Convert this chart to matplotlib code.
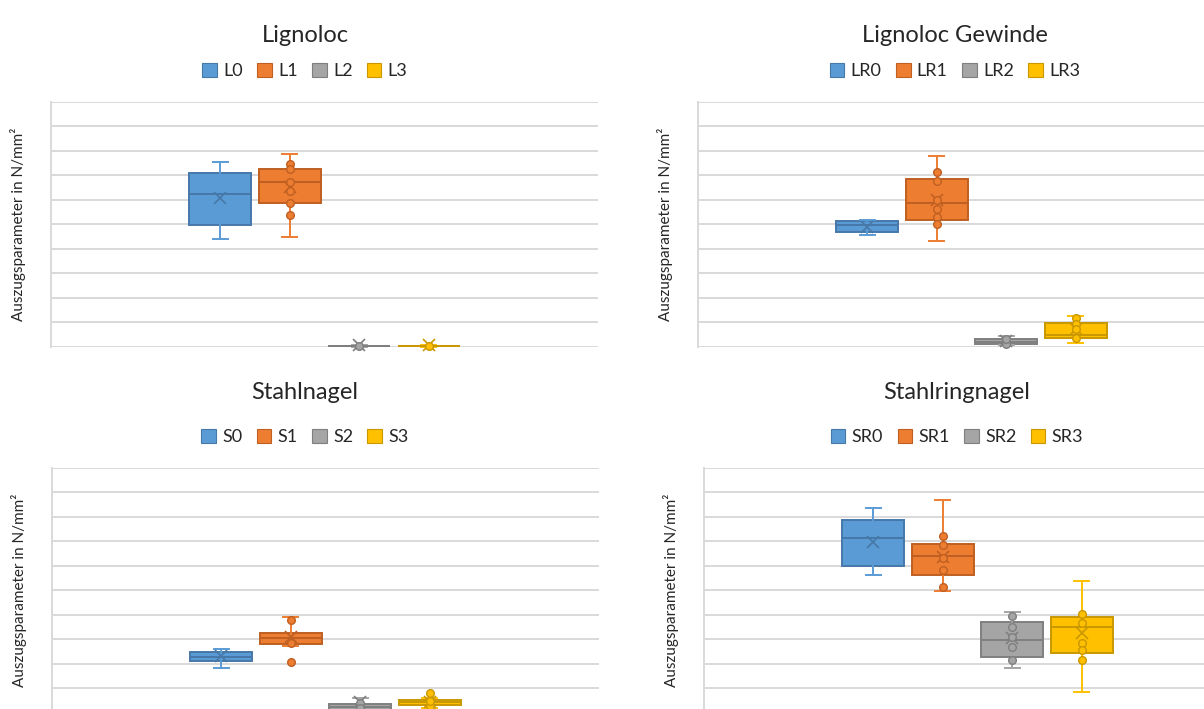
"""Pull-out parameters of four fastener types as Excel-style box plots."""

import matplotlib

matplotlib.use("Agg")
import matplotlib.pyplot as plt
from matplotlib.patches import Patch

plt.rcParams["font.family"] = ["Lato", "DejaVu Sans"]

W, H = 1204, 709

COLORS = ["#5B9BD5", "#ED7D31", "#A5A5A5", "#FFC000"]
EDGES = ["#4678A8", "#BF5F22", "#7F7F7F", "#C99700"]
GRID = "#D9D9D9"
YLABEL = "Auszugsparameter in N/mm²"

# Lignoloc
L_LABELS = ["L0", "L1", "L2", "L3"]
L_WHISLO = [4.38, 4.46, 0.00, 0.00]
L_Q1 = [4.97, 5.86, 0.01, 0.01]
L_MED = [6.22, 6.72, 0.02, 0.02]
L_Q3 = [7.10, 7.25, 0.03, 0.03]
L_WHISHI = [7.55, 7.87, 0.06, 0.07]
L_MEAN = [6.09, 6.54, 0.08, 0.08]
L_POINTS = [[], [7.47, 7.25, 6.73, 6.37, 5.88, 5.39], [0.02], [0.02]]

# Lignoloc Gewinde
LR_LABELS = ["LR0", "LR1", "LR2", "LR3"]
LR_WHISLO = [4.57, 4.30, 0.08, 0.16]
LR_Q1 = [4.70, 5.17, 0.12, 0.34]
LR_MED = [4.95, 5.85, 0.20, 0.48]
LR_Q3 = [5.14, 6.84, 0.31, 0.97]
LR_WHISHI = [5.18, 7.78, 0.42, 1.26]
LR_MEAN = [4.88, 5.99, 0.23, 0.73]
LR_POINTS = [[], [7.14, 6.76, 5.99, 5.64, 5.29, 5.02], [0.10, 0.30],
             [1.15, 0.91, 0.70, 0.34]]

# Stahlnagel
S_LABELS = ["S0", "S1", "S2", "S3"]
S_WHISLO = [1.82, 2.72, 0.05, 0.18]
S_Q1 = [2.09, 2.82, 0.10, 0.32]
S_MED = [2.28, 3.04, 0.22, 0.42]
S_Q3 = [2.48, 3.26, 0.34, 0.52]
S_WHISHI = [2.58, 3.91, 0.60, 0.60]
S_MEAN = [2.30, 3.07, 0.41, 0.44]
S_POINTS = [[], [3.78, 2.85], [0.38, 0.20], [0.28, 0.45]]
S_FLIERS = [[], [2.07], [], [0.79]]

# Stahlringnagel
SR_LABELS = ["SR0", "SR1", "SR2", "SR3"]
SR_WHISLO = [5.62, 4.95, 1.81, 0.83]
SR_Q1 = [5.99, 5.61, 2.25, 2.44]
SR_MED = [7.14, 6.41, 2.96, 3.48]
SR_Q3 = [7.89, 6.90, 3.71, 3.89]
SR_WHISHI = [8.38, 8.69, 4.12, 5.36]
SR_MEAN = [6.96, 6.38, 3.04, 3.27]
SR_POINTS = [[], [7.20, 6.84, 6.32, 5.83, 5.14],
             [3.94, 3.48, 3.08, 2.69, 2.13],
             [4.01, 3.67, 2.86, 2.56, 2.16]]

NO_FLIERS = [[], [], [], []]

PANELS = [
    # title, labels, stats, inner points, fliers,
    # plot left/top (px), title x, title baseline, legend y (px)
    ("Lignoloc", L_LABELS,
     (L_WHISLO, L_Q1, L_MED, L_Q3, L_WHISHI, L_MEAN), L_POINTS, NO_FLIERS,
     51, 102, 305, 42, 71),
    ("Lignoloc Gewinde", LR_LABELS,
     (LR_WHISLO, LR_Q1, LR_MED, LR_Q3, LR_WHISHI, LR_MEAN), LR_POINTS, NO_FLIERS,
     698, 102, 955, 42, 71),
    ("Stahlnagel", S_LABELS,
     (S_WHISLO, S_Q1, S_MED, S_Q3, S_WHISHI, S_MEAN), S_POINTS, S_FLIERS,
     52, 468, 305, 399, 437),
    ("Stahlringnagel", SR_LABELS,
     (SR_WHISLO, SR_Q1, SR_MED, SR_Q3, SR_WHISHI, SR_MEAN), SR_POINTS, NO_FLIERS,
     704, 468, 957, 399, 437),
]

PLOT_W, PLOT_H = 547, 244.5
STEP = 69.5 / PLOT_W
BOX_W = 62 / PLOT_W

fig = plt.figure(figsize=(W / 100, H / 100), dpi=100)

for title, labels, stats, points, fliers, left, top, tx, ty, ly in PANELS:
    # plot areas on the right and bottom run past the figure edge
    ax = fig.add_axes([left / W, 1 - (top + PLOT_H) / H, PLOT_W / W, PLOT_H / H])
    whislo, q1, med, q3, whishi, mean = stats
    positions = [(i - 1.5) * STEP for i in range(4)]

    for i, pos in enumerate(positions):
        box = dict(whislo=whislo[i], q1=q1[i], med=med[i], q3=q3[i],
                   whishi=whishi[i], mean=mean[i], fliers=fliers[i])
        c, e = COLORS[i], EDGES[i]
        arts = ax.bxp(
            [box], positions=[pos], widths=BOX_W, patch_artist=True,
            showmeans=True, capwidths=BOX_W * 0.24, manage_ticks=False,
            boxprops=dict(facecolor=c, edgecolor=e, linewidth=1.4),
            medianprops=dict(color=e, linewidth=1.4),
            whiskerprops=dict(color=c, linewidth=1.4),
            capprops=dict(color=c, linewidth=1.4),
            meanprops=dict(marker="x", markeredgecolor=e, markersize=9,
                           markeredgewidth=1.2),
            flierprops=dict(marker="o", markerfacecolor=c, markeredgecolor=e,
                            markersize=5.5, markeredgewidth=1),
        )
        for group in arts.values():
            for artist in group:
                artist.set_clip_on(False)
        if points[i]:
            ax.plot([pos] * len(points[i]), points[i], "o", color=c,
                    markeredgecolor=e, markersize=5.5, markeredgewidth=1,
                    clip_on=False, zorder=4)

    ax.set_xlim(-0.5, 0.5)
    ax.set_ylim(0, 10)
    ax.set_yticks(range(11))
    ax.set_xticks([])
    ax.tick_params(axis="y", length=0, labelleft=False)
    ax.grid(axis="y", color=GRID, linewidth=1.4)
    ax.set_axisbelow(True)
    for side in ("top", "right", "bottom"):
        ax.spines[side].set_visible(False)
    ax.spines["left"].set_color(GRID)
    ax.spines["left"].set_linewidth(1.4)

    fig.text((left - 33) / W, 1 - (top + PLOT_H / 2) / H, YLABEL, rotation=90,
             fontsize=11, ha="center", va="center", color="#262626")
    fig.text(tx / W, 1 - ty / H, title, fontsize=17, ha="center",
             va="baseline", color="#262626")

    handles = [Patch(facecolor=COLORS[i], edgecolor=EDGES[i], linewidth=0.8)
               for i in range(4)]
    fig.legend(handles, labels, loc="center", bbox_to_anchor=(tx / W, 1 - ly / H),
               ncol=4, frameon=False, fontsize=13, handlelength=0.8,
               handleheight=0.8, handletextpad=0.35, columnspacing=0.8,
               labelcolor="#262626")

fig.savefig("out.png", dpi=100)
